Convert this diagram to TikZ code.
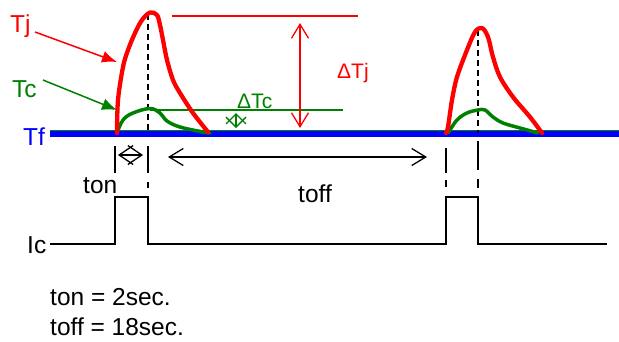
\documentclass[tikz,border=0pt]{standalone}
\usepackage{fontspec}
\setmainfont{Liberation Sans}
\usetikzlibrary{arrows.meta}
\definecolor{tgreen}{RGB}{0,128,0}

\begin{document}
\begin{tikzpicture}[x=1pt,y=-1pt,
  lbl/.style={anchor=base west,inner sep=0pt,font=\fontsize{24.5}{28}\selectfont},
  dlbl/.style={anchor=base west,inner sep=0pt,font=\fontsize{21}{24}\selectfont},
  tjcurve/.style={red,line width=4.3pt,line cap=round,line join=round},
  tccurve/.style={tgreen,line width=3.5pt,line cap=round,line join=round},
  level/.style={line width=1.3pt},
  guide/.style={black,line width=1.3pt},
  guidedash/.style={guide,dash pattern=on 6pt off 4pt},
  dim/.style={line width=1.3pt,{Straight Barb[length=14pt,width=17pt]}-{Straight Barb[length=14pt,width=17pt]}},
  tondim/.style={line width=1.3pt,{Straight Barb[length=14pt,width=19pt]}-{Straight Barb[length=14pt,width=19pt]}},
  tcdim/.style={line width=1.3pt,{Straight Barb[length=10pt,width=20pt]}-{Straight Barb[length=10pt,width=20pt]}},
  pointer/.style={line width=1.5pt,-{Latex[length=15pt,width=12pt]}}]
\useasboundingbox (0,0) rectangle (619,341);

%Tf
\draw[blue,line width=7pt] (50,133.5) -- (619,133.5);
\draw[tgreen,line width=1.3pt] (50,130.8) -- (619,130.8);
\node[lbl,blue] (tf) at (23,145) {Tf};

%levels
\draw[red,level] (172,16) -- (358,16);
\draw[tgreen,level] (150,110) -- (343,110);
\coordinate (djtop) at (300,23);
\coordinate (djbot) at (300,128);
\draw[red,dim] (djtop) -- (djbot);
\node[dlbl,red] (dtj) at (337,78) {ΔTj};
\coordinate (dctop) at (236,113);
\coordinate (dcbot) at (236,128);
\draw[tgreen,tcdim] (dctop) -- (dcbot);
\node[dlbl,tgreen] (dtc) at (237,108) {ΔTc};

%guides
\draw[guidedash] (148,14) -- (148,133);
\draw[guidedash] (478,30) -- (478,133);
\draw[guide] (115,146) -- (115,173);
\draw[guide] (148,146) -- (148,173) (148,182) -- (148,188);
\draw[guide] (446,148) -- (446,173) (446,180) -- (446,187);
\draw[guide] (478,141) -- (478,170) (478,179) -- (478,188);

%pulse 1
\draw[tccurve] plot[smooth,tension=0.6] coordinates {(117,133) (123,120) (133,113) (150,108.5) (160,113) (167,121) (180,127) (203,132) (210,133)};
\draw[tjcurve] plot[smooth,tension=0.55] coordinates {(117,133) (118,100) (123,67) (128,50) (135,33) (142,20) (150,12.5) (157,15) (160,25) (163,40) (167,60) (173,80) (180,93) (193,113) (208,132)};

%pulse 2
\draw[tccurve] plot[smooth,tension=0.6] coordinates {(448,133) (457,120) (467,113) (478,110) (485,110) (493,117) (503,123) (520,128) (538,133)};
\draw[tjcurve] plot[smooth,tension=0.55] coordinates {(446,133) (448,127) (452,100) (457,77) (467,50) (475,32) (482,28) (488,37) (493,57) (500,77) (513,97) (530,117) (542,133)};

%Tj, Tc
\node[lbl,red] (tj) at (10,32) {Tj};
\coordinate (tjfrom) at (35,32);
\coordinate (tjto) at (117,62);
\draw[red,pointer] (tjfrom) -- (tjto);
\node[lbl,tgreen] (tc) at (12,97) {Tc};
\coordinate (tcfrom) at (43,80);
\coordinate (tcto) at (117,110);
\draw[tgreen,pointer] (tcfrom) -- (tcto);

%times
\coordinate (onl) at (118,155);
\coordinate (onr) at (143,155);
\draw[black,tondim] (onl) -- (onr);
\node[lbl] (ton) at (83,193) {ton};
\coordinate (offl) at (168,157);
\coordinate (offr) at (427,157);
\draw[black,dim] (offl) -- (offr);
\node[lbl] (toff) at (298,202) {toff};

%Ic
\node[lbl] (ic) at (27,253) {Ic};
\draw[line width=1.5pt] (50,244) -- (115,244) -- (115,197) -- (148,197) -- (148,244)
  -- (446,244) -- (446,197) -- (478,197) -- (478,244) -- (607,244);

\node[lbl] (ton2) at (50,305) {ton = 2sec.};
\node[lbl] (toff2) at (50,335) {toff = 18sec.};

\end{tikzpicture}
\end{document}
